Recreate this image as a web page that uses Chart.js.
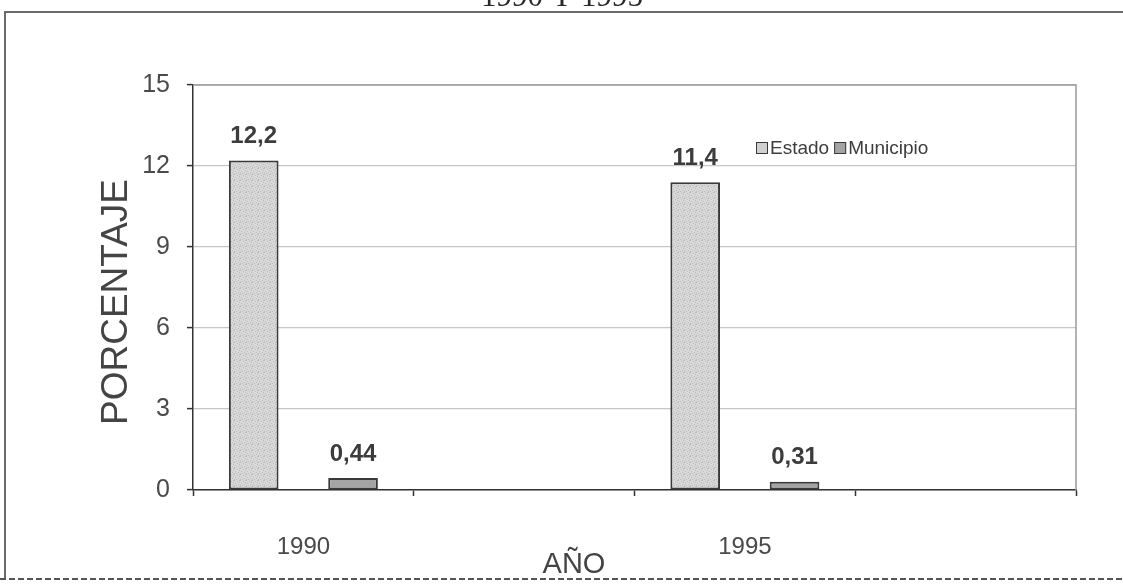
<!DOCTYPE html>
<html lang="es">
<head>
<meta charset="utf-8">
<title>Porcentaje 1990 y 1995</title>
<script src="https://cdn.jsdelivr.net/npm/chart.js@4.4.1/dist/chart.umd.min.js"></script>
<style>
  html, body { margin: 0; padding: 0; background: #ffffff; }
  #wrap { position: relative; width: 1123px; height: 586px; overflow: hidden; }
  canvas { display: block; }
</style>
</head>
<body>
<div id="wrap"><canvas id="chart" width="1123" height="586"></canvas></div>
<script>
// Categories along the x axis (two empty slots keep the Excel-style spacing)
const categories = ['1990', '', '1995', ''];
// Percentages for each series
const estado = [12.2, null, 11.4, null];
const municipio = [0.44, null, 0.31, null];
// Y axis ticks
const yTicks = [0, 3, 6, 9, 12, 15];

const seriesNames = ['Estado', 'Municipio'];
const titleText = '1990 Y 1995';
const yTitle = 'PORCENTAJE';
const xTitle = 'AÑO';

const FONT = '"Liberation Sans", Arial, sans-serif';

// Fine dotted fill used for the "Estado" bars
function stipple(base, dot) {
  const c = document.createElement('canvas');
  c.width = 6; c.height = 6;
  const g = c.getContext('2d');
  g.fillStyle = base;
  g.fillRect(0, 0, 6, 6);
  g.fillStyle = dot;
  [[0, 0], [3, 1], [5, 2], [1, 3], [4, 4], [2, 5], [0, 5], [5, 0]].forEach(([x, y]) => g.fillRect(x, y, 1, 1));
  return g.createPattern(c, 'repeat');
}
const estadoFill = stipple('#d8d8d8', '#bcbcbc');
const estadoSwatch = '#d0d0d0';
const municipioFill = '#a4a4a4';

// Outer frame, partly clipped title and plot border
const framePlugin = {
  id: 'frame',
  beforeDraw(chart) {
    const ctx = chart.ctx;
    ctx.save();
    ctx.fillStyle = '#ffffff';
    ctx.fillRect(0, 0, chart.width, chart.height);
    ctx.strokeStyle = '#6a6a6a';
    ctx.lineWidth = 2;
    ctx.beginPath();
    ctx.moveTo(5, 578);
    ctx.lineTo(5, 12);
    ctx.lineTo(chart.width, 12);
    ctx.stroke();
    ctx.strokeStyle = '#555555';
    ctx.setLineDash([6, 3]);
    ctx.beginPath();
    ctx.moveTo(0, 579);
    ctx.lineTo(chart.width, 579);
    ctx.stroke();
    ctx.setLineDash([]);
    ctx.fillStyle = '#2a2a2a';
    ctx.font = '31px "Liberation Serif", "Times New Roman", serif';
    ctx.textAlign = 'center';
    ctx.textBaseline = 'alphabetic';
    ctx.fillText(titleText, 562, 6);
    ctx.restore();
  },
  beforeDatasetsDraw(chart) {
    const { ctx, chartArea: a } = chart;
    ctx.save();
    ctx.strokeStyle = '#9a9a9a';
    ctx.lineWidth = 1.5;
    ctx.beginPath();
    ctx.moveTo(a.left, a.top);
    ctx.lineTo(a.right, a.top);
    ctx.lineTo(a.right, a.bottom);
    ctx.stroke();
    ctx.restore();
  }
};

// Value labels above bars, axis titles and the in-plot legend
const labelsPlugin = {
  id: 'labels',
  afterDatasetsDraw(chart) {
    const ctx = chart.ctx;
    ctx.save();
    ctx.fillStyle = '#3c3c3c';
    ctx.font = 'bold 24px ' + FONT;
    ctx.textAlign = 'center';
    ctx.textBaseline = 'middle';
    chart.data.datasets.forEach((ds, i) => {
      const meta = chart.getDatasetMeta(i);
      meta.data.forEach((bar, j) => {
        const v = ds.data[j];
        if (v === null || v === undefined) return;
        ctx.fillText(String(v).replace('.', ','), bar.x, bar.y - 24);
      });
    });

    // axis titles
    ctx.fillStyle = '#444444';
    ctx.font = '29px ' + FONT;
    ctx.fillText(xTitle, 574, 565);
    ctx.save();
    ctx.translate(117, 302);
    ctx.rotate(-Math.PI / 2);
    ctx.font = '37px ' + FONT;
    ctx.fillText(yTitle, 0, 0);
    ctx.restore();

    // legend
    ctx.font = '19px ' + FONT;
    ctx.textAlign = 'left';
    let x = 756;
    const y = 148;
    chart.data.datasets.forEach((ds) => {
      ctx.fillStyle = ds.swatch;
      ctx.fillRect(x, y - 6, 12, 12);
      ctx.strokeStyle = '#3a3a3a';
      ctx.lineWidth = 1;
      ctx.strokeRect(x + 0.5, y - 5.5, 11, 11);
      ctx.fillStyle = '#3c3c3c';
      ctx.fillText(ds.label, x + 14, y + 1);
      x += 14 + ctx.measureText(ds.label).width + 5;
    });
    ctx.restore();
  }
};

new Chart(document.getElementById('chart'), {
  type: 'bar',
  data: {
    labels: categories,
    datasets: [
      {
        label: seriesNames[0],
        data: estado,
        backgroundColor: estadoFill,
        swatch: estadoSwatch,
        borderColor: '#3a3a3a',
        borderWidth: 2,
        borderSkipped: false,
        categoryPercentage: 0.9,
        barPercentage: 0.5
      },
      {
        label: seriesNames[1],
        data: municipio,
        backgroundColor: municipioFill,
        swatch: municipioFill,
        borderColor: '#3a3a3a',
        borderWidth: 2,
        borderSkipped: false,
        categoryPercentage: 0.9,
        barPercentage: 0.5
      }
    ]
  },
  options: {
    responsive: false,
    animation: false,
    layout: { padding: { left: 0, right: 47, top: 85, bottom: 0 } },
    plugins: {
      legend: { display: false },
      title: { display: false },
      tooltip: { enabled: false }
    },
    scales: {
      x: {
        offset: true,
        grid: {
          offset: true,
          drawOnChartArea: false,
          drawTicks: true,
          tickLength: 6,
          tickColor: '#333333',
          tickWidth: 1.5
        },
        border: { color: '#333333', width: 1.5 },
        ticks: {
          color: '#4a4a4a',
          font: { family: FONT, size: 24 },
          padding: 37,
          maxRotation: 0,
          autoSkip: false
        },
        afterFit(scale) { scale.height = 96; }
      },
      y: {
        min: 0,
        max: 15,
        afterBuildTicks(scale) { scale.ticks = yTicks.map(v => ({ value: v })); },
        grid: {
          color: '#c6c6c6',
          lineWidth: 1.2,
          tickLength: 6,
          tickColor: '#333333',
          tickWidth: 1.5
        },
        border: { color: '#333333', width: 1.5 },
        ticks: {
          color: '#4a4a4a',
          font: { family: FONT, size: 25 },
          padding: 17
        },
        afterFit(scale) { scale.width = 193; }
      }
    }
  },
  plugins: [framePlugin, labelsPlugin]
});
</script>
</body>
</html>
